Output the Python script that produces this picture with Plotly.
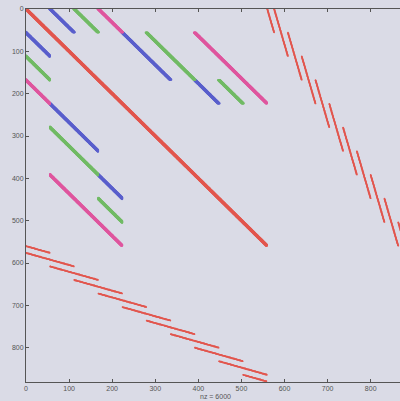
import numpy as np
import plotly.graph_objects as go

# ---- matrix structure ----
N = 880                 # matrix order
n_top = 560             # size of the upper-left block
# diagonal stripes in the upper-left block (mirrored below the diagonal)
stripe_row_start = [0, 0, 0, 0, 56, 56, 168, 56, 168]
stripe_row_end = [560, 56, 56, 56, 168, 168, 224, 224, 224]
stripe_offset = [0, 56, 112, 168, 168, 224, 224, 336, 280]
stripe_color = ["red", "blue", "green", "magenta", "blue", "green", "blue", "magenta", "green"]
band_offsets = [-2, -1, 0, 1, 2]

# coupling block (rows 560..880, cols 0..560) made of staggered segments
seg_count = 11
seg_first_col = -56
seg_first_row = 544
seg_col_step = 56
seg_row_step = 32
seg_col_len = 112
seg_row_len = 32

x_ticks = [0, 100, 200, 300, 400, 500, 600, 700, 800]
y_ticks = [0, 100, 200, 300, 400, 500, 600, 700, 800]
nz_label = "nz = 6000"

colors = {"red": "#e2574f", "blue": "#5b60cc", "green": "#72bb66", "magenta": "#df579f"}
bg = "#dadbe6"

pts = {k: ([], []) for k in colors}

for rs, re_, off, col in zip(stripe_row_start, stripe_row_end, stripe_offset, stripe_color):
    xs, ys = pts[col]
    for r in range(rs, re_):
        for b in band_offsets:
            c = r + off + b
            if 0 <= c < n_top:
                xs.append(c); ys.append(r)
                if off != 0:
                    xs.append(r); ys.append(c)

cx, cy = [], []
for k in range(seg_count):
    c0 = seg_first_col + k * seg_col_step
    r0 = seg_first_row + k * seg_row_step
    for c in range(c0, c0 + seg_col_len):
        r = int(round(r0 + (c - c0) * seg_row_len / seg_col_len))
        if 0 <= c < n_top and n_top <= r < N:
            cx.append(c); cy.append(r)
            cx.append(r); cy.append(c)

fig = go.Figure()
for name in ["red", "blue", "green", "magenta"]:
    xs, ys = pts[name]
    fig.add_trace(go.Scatter(x=xs, y=ys, mode="markers",
                             marker=dict(color=colors[name], size=2.3, line=dict(width=0)),
                             hoverinfo="skip"))
fig.add_trace(go.Scatter(x=cx, y=cy, mode="markers",
                         marker=dict(color=colors["red"], size=1.7, line=dict(width=0)),
                         hoverinfo="skip"))

axis_font = dict(family="Liberation Sans, Arial, sans-serif", size=7, color="#555")
fig.update_layout(
    width=400, height=401,
    margin=dict(l=26, r=0, t=9, b=19, autoexpand=False),
    paper_bgcolor=bg, plot_bgcolor=bg,
    showlegend=False,
    xaxis=dict(range=[0, 868], tickvals=x_ticks, ticks="inside", ticklen=3,
               tickcolor="#555", showline=True, linecolor="#555", linewidth=1,
               mirror="ticks", showgrid=False, zeroline=False, tickfont=axis_font,
               automargin=False),
    yaxis=dict(range=[881, 0], tickvals=y_ticks, ticks="inside", ticklen=3,
               tickcolor="#555", showline=True, linecolor="#555", linewidth=1,
               mirror=False, showgrid=False, zeroline=False, tickfont=axis_font,
               automargin=False),
    annotations=[dict(text=nz_label, xref="x", yref="paper", x=440.5, y=-0.04,
                      yanchor="middle", showarrow=False, font=axis_font)],
)
fig.write_html("out.html", config={"displayModeBar": False},
               post_script="document.body.style.margin='0';document.body.style.overflow='hidden';"
                           "document.documentElement.style.background='" + bg + "';")
